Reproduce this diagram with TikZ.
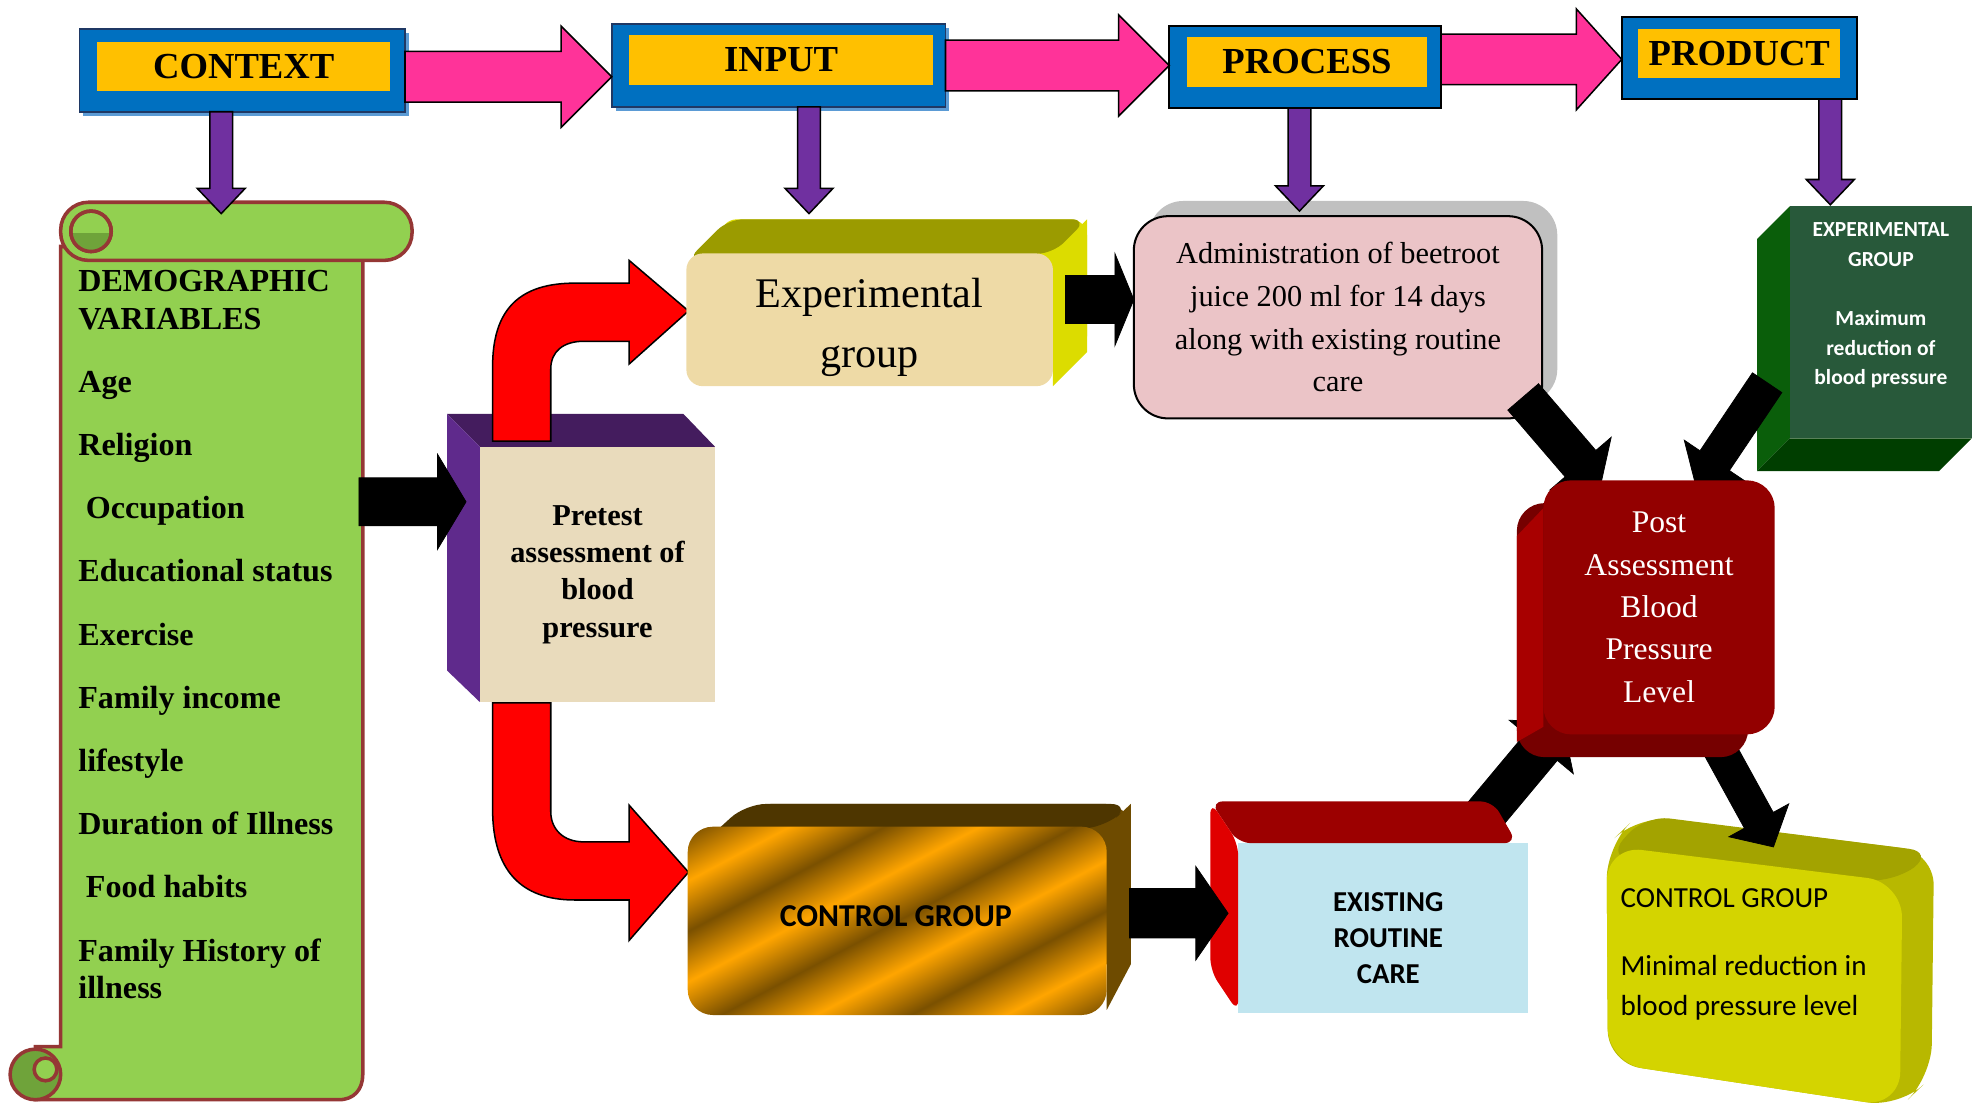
\documentclass[tikz,border=0pt]{standalone}
\usepackage{fontspec}
\setmainfont{Liberation Serif}
\newfontfamily\calibri{Carlito}
\usetikzlibrary{calc,shadows}

\definecolor{tblue}{HTML}{0070C0}
\definecolor{tnavy}{HTML}{1F3864}
\definecolor{tshadow}{HTML}{5B9BD5}
\definecolor{torange}{HTML}{FFC000}
\definecolor{tpink}{HTML}{FF3399}
\definecolor{tpurple}{HTML}{7030A0}
\definecolor{scrgreen}{HTML}{92D050}
\definecolor{scrdark}{HTML}{6FA33A}
\definecolor{scrbrown}{HTML}{953735}
\definecolor{prefill}{HTML}{E9DBBC}
\definecolor{pretopc}{HTML}{441C5E}
\definecolor{preleftc}{HTML}{5F2A8C}
\definecolor{expfill}{HTML}{EEDAA6}
\definecolor{exptopc}{HTML}{9B9B00}
\definecolor{expsidec}{HTML}{DCDC00}
\definecolor{admfill}{HTML}{EBC4C7}
\definecolor{admgray}{HTML}{C0C0C0}
\definecolor{goldlt}{HTML}{FFA500}
\definecolor{golddk}{HTML}{7A5000}
\definecolor{ctltopc}{HTML}{4E3600}
\definecolor{ctlsidec}{HTML}{6E4B00}
\definecolor{extfill}{HTML}{C0E5EF}
\definecolor{exttopc}{HTML}{9C0000}
\definecolor{extleftc}{HTML}{E00000}
\definecolor{postfill}{HTML}{930000}
\definecolor{postleftc}{HTML}{A80000}
\definecolor{postbotc}{HTML}{760000}
\definecolor{grnfill}{HTML}{28593A}
\definecolor{grnleftc}{HTML}{0A5E0A}
\definecolor{grnbotc}{HTML}{003E00}
\definecolor{ylwfill}{HTML}{D4D400}
\definecolor{ylwtopc}{HTML}{A3A300}
\definecolor{ylwsidec}{HTML}{B8B800}

\pgfdeclarehorizontalshading{goldstripes}{100bp}{color(0bp)=(golddk); color(8.33bp)=(goldlt);
  color(16.67bp)=(golddk); color(25bp)=(goldlt); color(33.33bp)=(golddk); color(41.67bp)=(goldlt);
  color(50bp)=(golddk); color(58.33bp)=(goldlt); color(66.67bp)=(golddk); color(75bp)=(goldlt);
  color(83.33bp)=(golddk); color(91.67bp)=(goldlt); color(100bp)=(golddk)}

\pgfdeclarelayer{back}
\pgfdeclarelayer{frontback}
\pgfdeclarelayer{front}
\pgfsetlayers{back,main,frontback,front}

% block arrow: [style]{from}{to}{half shaft}{half head}{head length}
\newcommand{\blockarrow}[6][]{%
  \coordinate (ba-h) at ($(#3)!#6!(#2)$);
  \filldraw[#1] ($(#2)!#4!90:(#3)$) -- ($(ba-h)!#4!90:(#3)$)
    -- ($(ba-h)!#5!90:(#3)$) -- (#3)
    -- ($(ba-h)!#5!-90:(#3)$) -- ($(ba-h)!#4!-90:(#3)$)
    -- ($(#2)!#4!-90:(#3)$) -- cycle;
}

\begin{document}
\begin{tikzpicture}[x=0.5pt,y=-0.5pt,
  every node/.style={inner sep=0pt,outer sep=0pt},
  topbox/.style={fill=tblue,draw=tnavy,line width=0.6pt},
  toplab/.style={fill=torange,font=\fontsize{14.5}{17}\selectfont\bfseries},
  blueshadow/.style={drop shadow={shadow xshift=1.5pt,shadow yshift=-1.5pt,fill=tshadow,opacity=1}},
  pinkarrow/.style={fill=tpink,draw=black,line width=0.6pt},
  purplearrow/.style={fill=tpurple,draw=black,line width=0.6pt},
  blackarrow/.style={fill=black,draw=black,line width=0.3pt},
  redarrow/.style={fill=red,draw=black,line width=0.6pt},
  scroll/.style={fill=scrgreen,draw=scrbrown,line width=1.4pt},
  dvtext/.style={align=left,font=\fontsize{12.7}{15}\selectfont\bfseries},
  prefront/.style={fill=prefill,minimum width=93pt,minimum height=101pt,align=center,
    font=\fontsize{12}{14.75}\selectfont\bfseries},
  expfront/.style={fill=expfill,rounded corners=6.5pt,minimum width=145pt,minimum height=52.5pt},
  exptext/.style={align=center,font=\fontsize{16.7}{23.8}\selectfont},
  admfront/.style={fill=admfill,draw=black,line width=0.8pt,rounded corners=13.5pt,
    minimum width=161.5pt,minimum height=80pt,align=center,font=\fontsize{12}{16.9}\selectfont,
    drop shadow={shadow xshift=6pt,shadow yshift=6pt,fill=admgray,opacity=1}},
  ctlfront/.style={shading=goldstripes,shading angle=-62,rounded corners=10pt,
    minimum width=165.75pt,minimum height=74.5pt},
  ctltext/.style={font=\calibri\bfseries\fontsize{12.6}{15}\selectfont},
  extfront/.style={fill=extfill,minimum width=114.75pt,minimum height=67pt},
  exttext/.style={align=center,font=\calibri\bfseries\fontsize{11.4}{14.25}\selectfont},
  postfront/.style={fill=postfill,rounded corners=11pt,minimum width=91.5pt,minimum height=100.5pt,
    text=white,align=center,font=\fontsize{12.5}{16.75}\selectfont},
  grnfront/.style={fill=grnfill,minimum width=72pt,minimum height=91.75pt},
  grntext/.style={text=white,align=center,font=\calibri\bfseries\fontsize{8.5}{11.75}\selectfont},
  ylwtext/.style={align=left,font=\calibri\fontsize{11.5}{16}\selectfont}]

\useasboundingbox (0,0) rectangle (1568,878);

%========================================
% LEFT: scroll with demographic variables
%========================================
\filldraw[scroll] (48,195) -- (287,195) -- (287,850) .. controls (287,862) and (280,870) .. (268,870)
  -- (28,870) -- (28,828) -- (48,828) -- cycle;
\filldraw[scroll,fill=scrdark] (28,850) circle (20);
\filldraw[scroll] (36,846) circle (9);
% top roll
\filldraw[scroll,rounded corners=11pt] (48,160) rectangle (326,206);
\filldraw[scroll] (72,183) circle (16);
\begin{scope}
  \clip (50,185) rectangle (95,205);
  \fill[scrdark] (72,183) circle (16);
\end{scope}
\draw[scrbrown,line width=1.4pt] (72,183) circle (16);

\node[dvtext,anchor=west] (dv) at (62,502) {DEMOGRAPHIC\\VARIABLES\\[10pt]Age\\[10pt]Religion\\[10pt]%
  \hspace*{3pt}Occupation\\[10pt]Educational status\\[10pt]Exercise\\[10pt]Family income\\[10pt]%
  lifestyle\\[10pt]Duration of Illness\\[10pt]\hspace*{3pt}Food habits\\[10pt]Family History of\\illness};

%========================================
% MIDDLE: pretest and the two groups
%========================================
\node[prefront] (pre) at (472.7,454.5) {Pretest\\assessment of\\blood\\pressure};
\fill[pretopc] (pre.north west) -- ++(-26,-26) -- ($(pre.north east)+(-25,-26)$) -- (pre.north east) -- cycle;
\fill[preleftc] (pre.north west) -- ++(-26,-26) -- ($(pre.south west)+(-26,-25)$) -- (pre.south west) -- cycle;

% bent red arrows out of the pretest box
\begin{scope}[shift={(pre.north west)}]
  \filldraw[redarrow] (10,-4.5) -- (10,-63.5) .. controls (10,-109.5) and (32,-129.5) .. (75,-129.5)
    -- (118,-129.5) -- (118,-147.5) -- (165,-107.5) -- (118,-65.5) -- (118,-83.5) -- (82,-83.5)
    .. controls (66,-83.5) and (56,-75.5) .. (56,-61.5) -- (56,-4.5) -- cycle;
\end{scope}
\begin{scope}[shift={(pre.south west)}]
  \filldraw[redarrow] (10,0.5) -- (10,84.5) .. controls (10,132.5) and (32,156.5) .. (75,156.5)
    -- (118,156.5) -- (118,188.5) -- (165,134.5) -- (118,81.5) -- (118,110.5) -- (82,110.5)
    .. controls (66,110.5) and (56,100.5) .. (56,86.5) -- (56,0.5) -- cycle;
\end{scope}

\coordinate (dvout) at (284,397);
\coordinate (prein) at ($(dvout -| pre.west)+(-11,0)$);
\blockarrow[blackarrow]{dvout}{prein}{9.5pt}{18.75pt}{11.25pt}

% experimental group
\node[expfront] (exp) at (688,253) {};
\node[exptext] (explab) at ($(exp.center)+(0,6)$) {Experimental\\group};
\begin{pgfonlayer}{back}
  \fill[expsidec,rounded corners=6.5pt] ($(exp.south west)+(27,-27)$) rectangle ($(exp.north east)+(27,-27)$);
  \fill[expsidec] (exp.north east) -- ++(27,-27) -- ($(exp.south east)+(27,-27)$) -- (exp.south east) -- cycle;
  \fill[exptopc,rounded corners=6pt] ($(exp.north west)+(0,6)$) -- ($(exp.north west)+(33,-27)$)
    -- ($(exp.north east)+(27,-27)$) -- (exp.north east) -- cycle;
\end{pgfonlayer}

% beetroot juice
\node[admfront] (adm) at (1058.5,251) {Administration of beetroot\\juice 200 ml for 14 days\\along with existing routine\\care};
\coordinate (expout) at ($(exp.east)+(10,-16)$);
\coordinate (admin) at (expout -| adm.west);
\blockarrow[blackarrow]{expout}{admin}{9.5pt}{18.25pt}{7.5pt}

% control group
\node[ctlfront] (ctl) at (709.8,728.5) {};
\node[ctltext] (ctllab) at ($(ctl.center)+(-1,-4)$) {CONTROL GROUP};
\begin{pgfonlayer}{back}
  \fill[ctlsidec,rounded corners=10pt] ($(ctl.north west)+(46,-18)$) rectangle ($(ctl.south east)+(19,-40)$);
  \fill[ctlsidec] (ctl.north east) -- ++(19,-18) -- ($(ctl.south east)+(19,-40)$) -- ($(ctl.south east)+(0,-4)$) -- cycle;
  \fill[ctltopc,rounded corners=8pt] ($(ctl.north west)+(0,24)$) -- ($(ctl.north west)+(46,-18)$)
    -- ($(ctl.north east)+(19,-18)$) -- (ctl.north east) -- cycle;
\end{pgfonlayer}

%========================================
% RIGHT: results
%========================================
\node[grnfront] (grn) at (1488,255) {};
\fill[grnleftc] (grn.north west) -- ++(-26,26) -- ($(grn.south west)+(-26,26)$) -- (grn.south west) -- cycle;
\fill[grnbotc] (grn.south west) -- ++(-26,26) -- ($(grn.south east)+(-26,26)$) -- (grn.south east) -- cycle;
\node[grntext] (grnlab) at (1488,241.6) {EXPERIMENTAL\\GROUP\\[11.75pt]Maximum\\reduction of\\blood pressure};

% control result
\coordinate (ylwA) at (1271,669);
\coordinate (ylwB) at (1505,698);
\coordinate (ylwC) at (1503,876);
\coordinate (ylwD) at (1272,841);
\fill[ylwsidec,rounded corners=13pt] (ylwA) -- ++(25,-24) -- ($(ylwB)+(25,-24)$) -- ($(ylwC)+(25,-24)$)
  -- (ylwC) -- (ylwD) -- cycle;
\fill[ylwtopc,rounded corners=10pt] ($(ylwA)+(0,10)$) -- ($(ylwA)+(30,-24)$) -- ($(ylwB)+(25,-24)$)
  -- ($(ylwB)+(-6,0)$) -- cycle;
\fill[ylwfill,rounded corners=14pt] (ylwA) -- (ylwB) -- (ylwC) -- (ylwD) -- cycle;
\node[ylwtext,anchor=west] (ylw) at (1282,755) {CONTROL GROUP\\[10.75pt]Minimal reduction in\\blood pressure level};
\coordinate (ylwtip) at (1403,670);

% routine care and post assessment (drawn over their arrows)
\begin{pgfonlayer}{front}
  \node[extfront] (ext) at (1094.3,734) {};
  \fill[exttopc,rounded corners=5pt] (ext.north west) -- ++(-22,-33) -- ($(ext.north east)+(-28,-33)$)
    -- ($(ext.north east)+(-9,0)$) -- cycle;
  \fill[extleftc,rounded corners=5pt] (ext.north west) -- ++(-22,-33) -- ($(ext.south west)+(-22,-33)$)
    -- (ext.south west) -- cycle;
  \node[exttext] (extlab) at ($(ext.center)+(4,8)$) {EXISTING\\ROUTINE\\CARE};
  \coordinate (ctlout) at ($(ctl.east)+(18,-6)$);
  \coordinate (extin) at ($(ctlout -| ext.west)+(-8,0)$);
  \blockarrow[blackarrow]{ctlout}{extin}{9.75pt}{18.5pt}{12.75pt}

  \node[postfront] (post) at (1312.5,480.5) {Post\\Assessment\\Blood\\Pressure\\Level};
\end{pgfonlayer}
\begin{pgfonlayer}{frontback}
  \fill[postbotc,rounded corners=11pt] ($(post.south west)+(-21,18)$) rectangle ($(post.north east)+(-21,18)$);
  \fill[postleftc] ($(post.north west)+(0,22)$) -- ($(post.north west)+(-21,44)$)
    -- ($(post.south west)+(-21,6)$) -- ($(post.south west)+(0,-6)$) -- cycle;
\end{pgfonlayer}

\coordinate (extout) at ($(ext.north east)+(-39,-17)$);
\coordinate (postin3) at ($(post.south west)+(15,-10)$);
\blockarrow[blackarrow]{extout}{postin3}{8.25pt}{16.5pt}{13pt}
\coordinate (admout) at ($(adm.south east)+(-15,-17)$);
\coordinate (postin1) at ($(post.north west)+(45,5)$);
\blockarrow[blackarrow]{admout}{postin1}{8pt}{16pt}{12pt}
\coordinate (grnout) at ($(grn.south west)+(-18,-44)$);
\coordinate (postin2) at ($(post.north east)+(-62,6)$);
\blockarrow[blackarrow]{grnout}{postin2}{7pt}{14.5pt}{13pt}
\coordinate (postout) at ($(post.south east)+(-56,-11)$);
\blockarrow[blackarrow]{postout}{ylwtip}{6.5pt}{13.5pt}{12pt}

%========================================
% TOP: context, input, process, product
%========================================
\node[topbox,blueshadow,minimum width=128.7pt,minimum height=32.7pt] (ctx) at (191.7,55.7) {};
\node[toplab,minimum width=116pt,minimum height=19.4pt] (ctxlab) at (192.8,52.4) {CONTEXT};
\node[topbox,blueshadow,minimum width=132pt,minimum height=32.75pt] (inp) at (616,51.8) {};
\node[toplab,minimum width=120pt,minimum height=19.5pt] (inplab) at (618,47.5) {INPUT};
\node[topbox,draw=black,minimum width=107.5pt,minimum height=32.5pt] (prc) at (1032.5,53) {};
\node[toplab,minimum width=95pt,minimum height=19.8pt] (prclab) at (1034,48.8) {PROCESS};
\node[topbox,draw=black,minimum width=93pt,minimum height=32.5pt] (prd) at (1376,46) {};
\node[toplab,minimum width=80pt,minimum height=19.3pt] (prdlab) at (1376,42.3) {PRODUCT};

\coordinate (c2i) at ($(ctx.east)+(0,5)$);
\blockarrow[pinkarrow]{c2i}{c2i -| inp.west}{10pt}{20pt}{20pt}
\blockarrow[pinkarrow]{inp.east}{inp.east -| prc.west}{10pt}{20pt}{20pt}
\coordinate (p2p) at ($(prc.east)+(0,-6)$);
\blockarrow[pinkarrow]{p2p}{p2p -| prd.west}{10pt}{20pt}{18pt}

% purple drops
\coordinate (ctxtip) at (175,169);
\coordinate (inptip) at (640,169);
\coordinate (prctip) at (1028,167);
\coordinate (prdtip) at (1448,162);
\blockarrow[purplearrow]{ctxtip |- ctx.south}{ctxtip}{4.5pt}{9.5pt}{10pt}
\blockarrow[purplearrow]{inptip |- inp.south}{inptip}{4.5pt}{9.5pt}{10pt}
\blockarrow[purplearrow]{prctip |- prc.south}{prctip}{4.5pt}{9.5pt}{10pt}
\blockarrow[purplearrow]{prdtip |- prd.south}{prdtip}{4.5pt}{9.5pt}{10pt}

\end{tikzpicture}
\end{document}
